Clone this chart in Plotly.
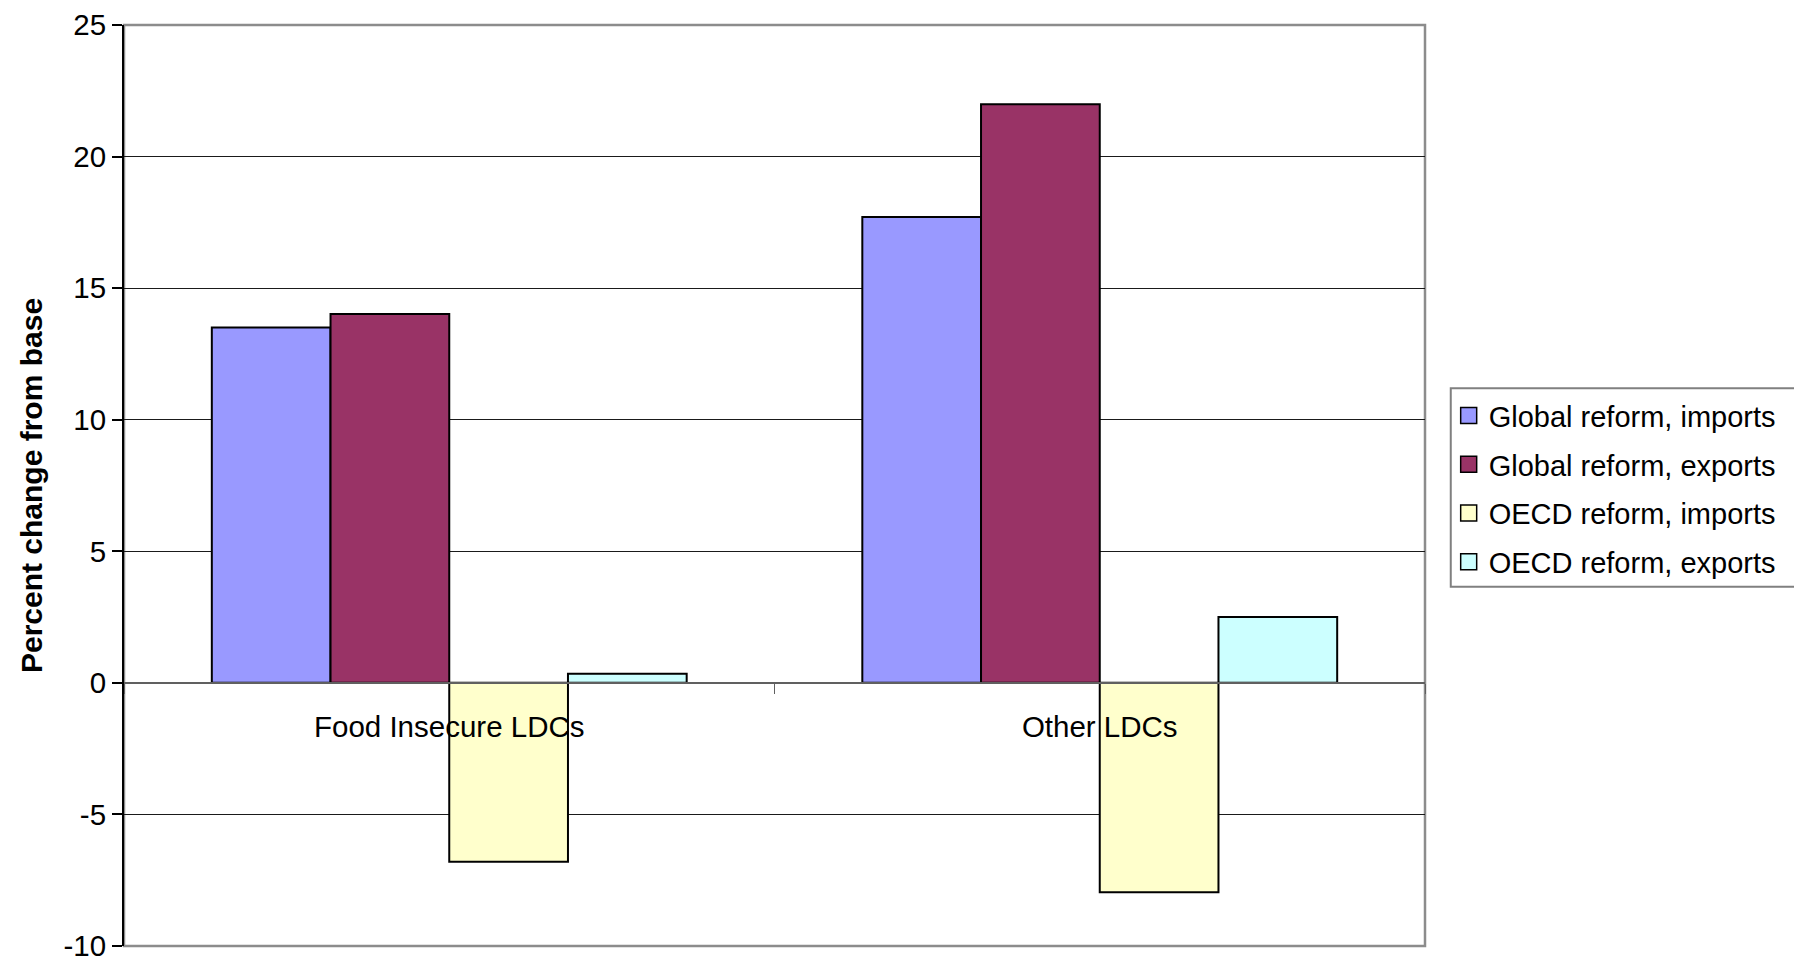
import plotly.graph_objects as go

# Regions compared
categories = ["Food Insecure LDCs", "Other LDCs"]

# Percent change from base, by scenario
global_imports = [13.5, 17.7]
global_exports = [14.02, 21.99]
oecd_imports = [-6.8, -7.96]
oecd_exports = [0.35, 2.5]

series_names = [
    "Global reform, imports",
    "Global reform, exports",
    "OECD reform, imports",
    "OECD reform, exports",
]
series_values = [global_imports, global_exports, oecd_imports, oecd_exports]
series_colors = ["#9999FF", "#993366", "#FFFFCC", "#CCFFFF"]

y_ticks = [-10, -5, 0, 5, 10, 15, 20, 25]
y_tick_text = ["-10", "-5", "0", "5", "10", "15", "20", "25"]
y_min, y_max = -10, 25

FONT = "Arial, Liberation Sans, sans-serif"

fig = go.Figure()
for name, vals, col in zip(series_names, series_values, series_colors):
    fig.add_trace(
        go.Bar(
            name=name,
            x=categories,
            y=vals,
            marker=dict(color=col, line=dict(color="black", width=2)),
            legendgroup=name,
            showlegend=False,
        )
    )

# legend keys: square swatches in each series colour
for name, col in zip(series_names, series_colors):
    fig.add_trace(
        go.Scatter(
            name=name,
            x=[None],
            y=[None],
            mode="markers",
            marker=dict(symbol="square", size=19, color=col, line=dict(color="black", width=1.5)),
            legendgroup=name,
            showlegend=True,
            hoverinfo="skip",
        )
    )

# position of y = 0 within the plot area, where the category axis sits
zero_pos = (0 - y_min) / (y_max - y_min)

fig.update_layout(
    width=1794,
    height=958,
    margin=dict(l=124, r=369, t=25, b=12, autoexpand=False),
    paper_bgcolor="white",
    plot_bgcolor="white",
    barmode="group",
    bargap=0.27,
    bargroupgap=0,
    font=dict(family=FONT, color="black"),
    showlegend=True,
    legend=dict(
        x=1.0182,
        y=0.6034,
        xanchor="left",
        yanchor="top",
        bgcolor="rgba(0,0,0,0)",
        borderwidth=0,
        font=dict(family=FONT, size=29, color="black"),
        tracegroupgap=8,
        itemwidth=30,
        itemsizing="trace",
    ),
    xaxis=dict(
        anchor="free",
        position=zero_pos,
        showline=True,
        linecolor="#606060",
        linewidth=1.5,
        ticks="outside",
        tickson="boundaries",
        ticklen=10,
        tickcolor="#606060",
        tickfont=dict(family=FONT, size=29.5, color="black"),
        ticklabelstandoff=18,
        showgrid=False,
        zeroline=False,
        fixedrange=True,
    ),
    yaxis=dict(
        range=[y_min, y_max],
        tickvals=y_ticks,
        ticktext=y_tick_text,
        ticks="outside",
        ticklen=10,
        tickcolor="black",
        tickwidth=1.5,
        tickfont=dict(family=FONT, size=29.5, color="black"),
        ticklabeloverflow="allow",
        showline=True,
        linecolor="black",
        linewidth=2,
        showgrid=True,
        gridcolor="#1a1a1a",
        gridwidth=1,
        zeroline=False,
        title=dict(
            text="<b>Percent change from base</b>",
            font=dict(family=FONT, size=30, color="black"),
            standoff=12,
        ),
    ),
)

# plot-area frame (top, right and bottom edges)
fig.add_shape(
    type="rect",
    xref="paper",
    yref="paper",
    x0=0,
    x1=1,
    y0=0,
    y1=1,
    line=dict(color="#8c8c8c", width=2.5),
    layer="below",
)

# legend box, running off the right edge of the page
fig.add_shape(
    type="rect",
    xref="paper",
    yref="paper",
    x0=1.0198,
    x1=1.35,
    y0=0.3901,
    y1=0.6055,
    line=dict(color="#808080", width=2),
    fillcolor="white",
    layer="below",
)

# page number at the foot of the page
fig.add_annotation(
    text="10",
    xref="paper",
    yref="paper",
    x=1.162,
    y=-0.004,
    xanchor="center",
    yanchor="top",
    showarrow=False,
    font=dict(family="Times New Roman, Liberation Serif, serif", size=32, color="black"),
)

fig.write_html("out.html")
